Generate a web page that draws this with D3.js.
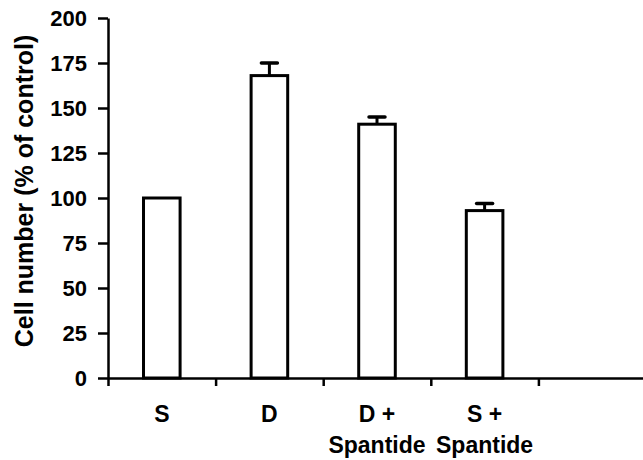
<!DOCTYPE html>
<html lang="en">
<head>
    <meta charset="UTF-8">
    <title>Cell number</title>
    <script src="https://d3js.org/d3.v7.min.js"></script>
    <style>
        body { margin: 0; background: #fff; }
        text { font-family: "Liberation Sans", Arial, sans-serif; font-weight: bold; fill: #000; }
    </style>
</head>
<body>
<div id="my_dataviz"></div>
<script>
    // data
    var categories = ["S", "D", "D +", "S +"];
    var subLabels = ["", "", "Spantide", "Spantide"];
    var means = [100, 168, 141, 93];
    var errors = [0, 7, 4, 4];
    var yTicks = [0, 25, 50, 75, 100, 125, 150, 175, 200];

    var data = categories.map(function(c, i) {
        return {group: c, sub: subLabels[i], value: means[i], err: errors[i]};
    });

    // plot box (window.top is reserved, so use a margin object)
    var width = 643, height = 460;
    var plot = {left: 108, right: 646, top: 18, bottom: 378};

    var svg = d3.select("#my_dataviz")
        .append("svg")
        .attr("width", width)
        .attr("height", height);

    // one spare empty slot on the right, like the original
    var x = d3.scaleBand()
        .domain(categories.concat([""]))
        .range([plot.left, plot.right])
        .padding(0);

    var xEdge = d3.scaleLinear()
        .domain([0, 5])
        .range([plot.left, plot.right]);

    var y = d3.scaleLinear()
        .domain([0, 200])
        .range([plot.bottom, plot.top]);

    // X axis: ticks at the slot boundaries
    var gx = svg.append("g")
        .attr("transform", "translate(0," + plot.bottom + ")")
        .call(d3.axisBottom(xEdge).tickValues([0, 1, 2, 3, 4]).tickSize(8).tickSizeOuter(0).tickFormat(""));
    gx.select(".domain").attr("stroke-width", 2.5);
    gx.selectAll(".tick line").attr("stroke-width", 2.5);

    // Y axis
    var gy = svg.append("g")
        .attr("transform", "translate(" + plot.left + ",0)")
        .call(d3.axisLeft(y).tickValues(yTicks).tickSize(10).tickPadding(11).tickSizeOuter(0));
    gy.select(".domain").attr("stroke-width", 2.5);
    gy.selectAll(".tick line").attr("stroke-width", 2.5);
    gy.selectAll(".tick text")
        .attr("font-size", 22)
        .attr("font-weight", "bold")
        .attr("font-family", "Liberation Sans, Arial, sans-serif");

    var barW = x.bandwidth() * 0.34;

    // error bars (drawn first, bar outline on top)
    var eb = svg.selectAll(".err")
        .data(data.filter(function(d) { return d.err > 0; }))
        .enter().append("g")
        .attr("class", "err");
    eb.append("line")
        .attr("x1", function(d) { return x(d.group) + x.bandwidth() / 2; })
        .attr("x2", function(d) { return x(d.group) + x.bandwidth() / 2; })
        .attr("y1", function(d) { return y(d.value); })
        .attr("y2", function(d) { return y(d.value + d.err); })
        .attr("stroke", "#000")
        .attr("stroke-width", 3);
    eb.append("line")
        .attr("x1", function(d) { return x(d.group) + x.bandwidth() / 2 - 8; })
        .attr("x2", function(d) { return x(d.group) + x.bandwidth() / 2 + 8; })
        .attr("y1", function(d) { return y(d.value + d.err); })
        .attr("y2", function(d) { return y(d.value + d.err); })
        .attr("stroke", "#000")
        .attr("stroke-width", 3.5)
        .attr("stroke-linecap", "round");

    // bars
    svg.selectAll("rect.bar")
        .data(data)
        .enter()
        .append("rect")
        .attr("class", "bar")
        .attr("x", function(d) { return x(d.group) + x.bandwidth() / 2 - barW / 2; })
        .attr("y", function(d) { return y(d.value); })
        .attr("width", barW)
        .attr("height", function(d) { return y(0) - y(d.value); })
        .attr("fill", "#fff")
        .attr("stroke", "#000")
        .attr("stroke-width", 3);

    // category labels
    svg.selectAll(".cat")
        .data(data)
        .enter().append("text")
        .attr("class", "cat")
        .attr("x", function(d) { return x(d.group) + x.bandwidth() / 2; })
        .attr("y", 422)
        .attr("text-anchor", "middle")
        .attr("font-size", 23)
        .text(function(d) { return d.group; });

    svg.selectAll(".sub")
        .data(data.filter(function(d) { return d.sub; }))
        .enter().append("text")
        .attr("class", "sub")
        .attr("x", function(d) { return x(d.group) + x.bandwidth() / 2; })
        .attr("y", 453)
        .attr("text-anchor", "middle")
        .attr("font-size", 23)
        .text(function(d) { return d.sub; });

    // Y axis title
    svg.append("text")
        .attr("transform", "translate(33,191) rotate(-90)")
        .attr("text-anchor", "middle")
        .attr("font-size", 25)
        .text("Cell number (% of control)");
</script>
</body>
</html>
